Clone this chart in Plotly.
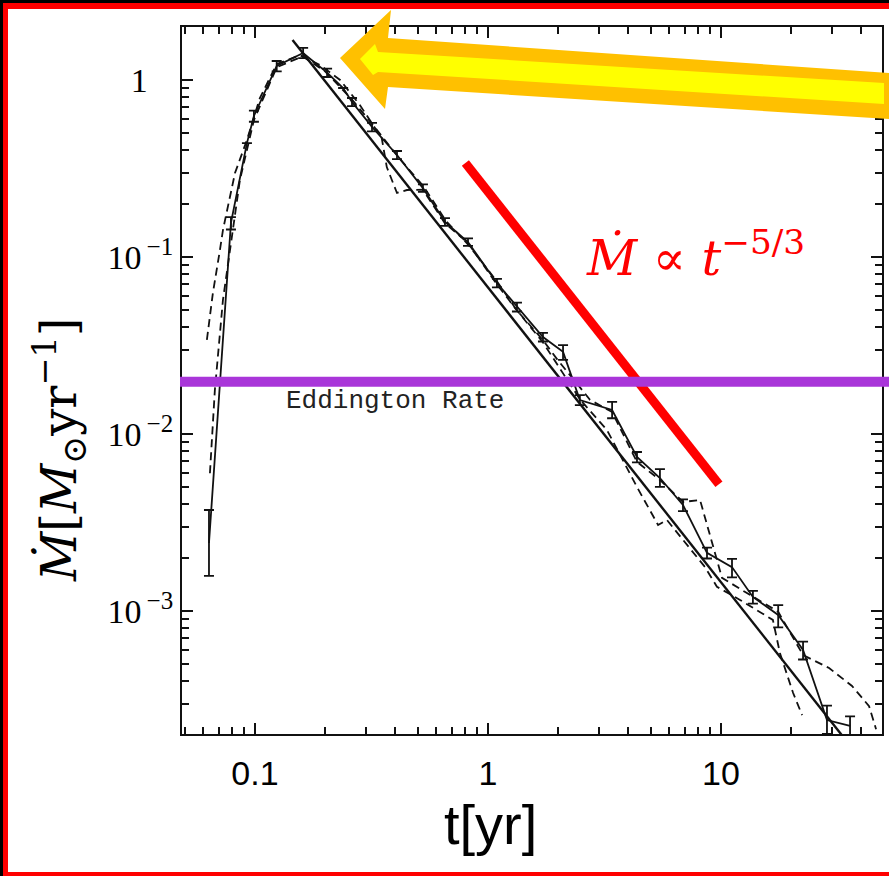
import plotly.graph_objects as go

# ---------------- data ----------------
# simulation (solid, with error bars)
t_sim = [0.0635, 0.0708, 0.0789, 0.0924, 0.099, 0.124, 0.161, 0.204, 0.239, 0.261,
         0.318, 0.407, 0.526, 0.654, 0.821, 1.093, 1.332, 1.722, 2.10, 2.48,
         3.41, 4.36, 5.47, 6.87, 8.71, 11.15, 13.71, 17.6, 22.5, 28.5, 35.8]
m_sim = [2.42e-3, 0.0202, 0.156, 0.44, 0.626, 1.20, 1.42, 1.10, 0.901, 0.751,
         0.543, 0.377, 0.245, 0.158, 0.1215, 0.0713, 0.0522, 0.0353, 0.0291, 0.01556,
         0.01367, 7.41e-3, 5.64e-3, 3.97e-3, 2.13e-3, 1.77e-3, 1.20e-3, 9.49e-4, 6.02e-4, 2.42e-4, 2.24e-4]
err_plus = [1.30e-3, 0, 0.012, 0, 0.045, 0.08, 0.10, 0.06, 0, 0.04,
            0.03, 0.02, 0.012, 0.008, 0.006, 0.004, 0.003, 0.002, 0.0027, 0.001,
            0.0015, 5e-4, 6.9e-4, 3e-4, 1.5e-4, 2.0e-4, 1e-4, 1.3e-4, 7e-5, 5e-5, 3e-5]
err_minus = [0.84e-3, 0, 0.013, 0, 0.045, 0.08, 0.09, 0.06, 0, 0.04,
             0.03, 0.02, 0.012, 0.008, 0.006, 0.004, 0.003, 0.002, 0.0029, 0.001,
             0.0014, 5e-4, 6.2e-4, 3e-4, 1.5e-4, 2.2e-4, 1e-4, 1.4e-4, 7e-5, 4e-5, 2.5e-5]

# dashed run 1
t_d1 = [0.0622, 0.066, 0.0708, 0.0729, 0.0821, 0.0924, 0.105, 0.124, 0.156, 0.19,
        0.232, 0.282, 0.35, 0.368, 0.407, 0.449, 0.526, 0.654, 0.821, 1.093,
        1.33, 1.72, 2.1, 2.5, 3.24, 4.36, 5.37, 5.86, 8.54, 9.61,
        12.07, 16.7, 17.9, 20.4, 22.3]
m_d1 = [0.034, 0.0626, 0.11, 0.142, 0.298, 0.458, 0.79, 1.23, 1.38, 1.215,
        1.0, 0.722, 0.47, 0.322, 0.23, 0.239, 0.24, 0.155, 0.12, 0.07,
        0.05, 0.033, 0.022, 0.0155, 0.01054, 5.02e-3, 3.06e-3, 3.27e-3, 1.77e-3, 1.37e-3,
        1.155e-3, 8.9e-4, 5.79e-4, 3.44e-4, 2.58e-4]

# dashed run 2
t_d2 = [0.0641, 0.0673, 0.0729, 0.0862, 0.099, 0.124, 0.16, 0.2, 0.26, 0.32,
        0.41, 0.53, 0.66, 0.82, 1.1, 1.33, 1.72, 2.0, 2.34, 2.74,
        3.41, 4.36, 5.47, 6.87, 8.13, 9.15, 10.1, 12.7, 17.6, 22.5,
        29.1, 36.5, 43.2, 46.3]
m_d2 = [6.0e-3, 0.0177, 0.0572, 0.272, 0.594, 1.18, 1.36, 1.12, 0.78, 0.56,
        0.37, 0.25, 0.16, 0.118, 0.072, 0.05, 0.034, 0.026, 0.0202, 0.0156,
        0.0133, 6.95e-3, 5.5e-3, 4.13e-3, 4.24e-3, 2.42e-3, 1.54e-3, 1.28e-3, 9.9e-4, 5.64e-4,
        4.76e-4, 3.77e-4, 2.9e-4, 2.15e-4]

# t^-5/3 fit line
t_fit = [0.145, 33.4]
m_fit = [1.68, 1.95e-4]

# red reference slope (annotation)
t_ref = [0.80, 9.8]
m_ref = [0.34, 5.2e-3]

eddington = 0.0197

x_tickvals = [0.1, 1, 10]
x_ticktext = ["0.1", "1", "10"]
y_tickvals = [1, 0.1, 0.01, 0.001]
SUP = "<sup><span style='font-size:25px'>\u2009\u2212%d</span></sup>"
y_ticktext = ["1\u00a0\u00a0\u00a0", "10" + SUP % 1, "10" + SUP % 2, "10" + SUP % 3]

x_minor = [k * 10.0 ** d for d in range(-2, 2) for k in range(2, 10)]
y_minor = [k * 10.0 ** d for d in range(-4, 1) for k in range(2, 10)]

# ---------------- figure ----------------
W, H = 889, 876
L, R, T, B = 182, 882, 27, 734


def PX(x):
    return (x - L) / (R - L)


def PY(y):
    return (B - y) / (B - T)


fig = go.Figure()

fig.add_trace(go.Scatter(x=t_d1, y=m_d1, mode="lines",
                         line=dict(color="#111", width=1.8, dash="8px,5px")))
fig.add_trace(go.Scatter(x=t_d2, y=m_d2, mode="lines",
                         line=dict(color="#111", width=1.8, dash="8px,5px")))
fig.add_trace(go.Scatter(x=t_fit, y=m_fit, mode="lines",
                         line=dict(color="#111", width=2.4)))
fig.add_trace(go.Scatter(x=t_sim, y=m_sim, mode="lines",
                         line=dict(color="#111", width=1.8),
                         error_y=dict(type="data", symmetric=False, array=err_plus,
                                      arrayminus=err_minus, color="#111",
                                      thickness=1.8, width=5)))
fig.add_trace(go.Scatter(x=t_ref, y=m_ref, mode="lines",
                         line=dict(color="#FF0000", width=9)))
# helper trace so the mirrored (top/right) axes exist
fig.add_trace(go.Scatter(x=[1], y=[1], xaxis="x2", yaxis="y2", mode="markers",
                         marker=dict(opacity=0), hoverinfo="skip"))

shapes = []
# Eddington line
shapes.append(dict(type="line", xref="paper", yref="y", x0=PX(180), x1=PX(889),
                   y0=eddington, y1=eddington, line=dict(color="#A936D9", width=10),
                   layer="above"))


def path(pts):
    return "M " + " L ".join("%.5f,%.5f" % (PX(x), PY(y)) for x, y in pts) + " Z"


outer = [(340, 58), (391, 10), (388, 38), (889, 73), (889, 119), (388, 87), (385, 109)]
inner = [(360, 59), (375, 44), (378, 52), (884, 83), (884, 104), (378, 72), (373, 75)]
shapes.append(dict(type="path", xref="paper", yref="paper", path=path(outer),
                   fillcolor="#FFC000", line=dict(width=0), layer="above"))
shapes.append(dict(type="path", xref="paper", yref="paper", path=path(inner),
                   fillcolor="#FFFF00", line=dict(width=0), layer="above"))

# frame
for (x0, y0, x1, y1, c) in [(0, 0, 889, 3, "black"), (0, 0, 3, 876, "black"),
                            (3, 3, 889, 9, "#FF0000"), (3, 3, 8, 876, "#FF0000"),
                            (8, 872, 889, 876, "#FF0000")]:
    shapes.append(dict(type="rect", xref="paper", yref="paper",
                       x0=PX(x0), x1=PX(x1), y0=PY(y1), y1=PY(y0),
                       fillcolor=c, line=dict(width=0), layer="above"))

annotations = [
    dict(xref="paper", yref="paper", x=PX(395), y=PY(401), xanchor="center", yanchor="middle",
         text="Eddington Rate", showarrow=False,
         font=dict(family="Liberation Mono, monospace", size=26, color="#222")),
    dict(xref="paper", yref="paper", x=PX(584), y=PY(254), xanchor="left", yanchor="middle",
         text="<i>\u1e40</i> \u221d <i>t</i><sup>\u22125/3</sup>", showarrow=False,
         font=dict(family="DejaVu Serif, serif", size=49, color="#FF0000")),
    dict(xref="paper", yref="paper", x=PX(59), y=PY(450), xanchor="center", yanchor="middle",
         textangle=-90,
         text="<i>\u1e40</i>[<i>M</i><sub>\u2299</sub>yr<sup>\u22121</sup>]", showarrow=False,
         font=dict(family="DejaVu Serif, serif", size=48, color="black")),
    dict(xref="paper", yref="paper", x=PX(490), y=PY(824), xanchor="center", yanchor="middle",
         text="t[yr]", showarrow=False,
         font=dict(family="Liberation Sans, Arial", size=56, color="black")),
]

axis_common = dict(type="log", showgrid=False, zeroline=False, showline=True,
                   linecolor="#111", linewidth=2, mirror=False,
                   ticks="inside", ticklen=11, tickwidth=1.5, tickcolor="#111")
minor_x = dict(tickvals=x_minor, ticks="inside", ticklen=7, tickwidth=1.5,
               tickcolor="#111", showgrid=False)
minor_y = dict(tickvals=y_minor, ticks="inside", ticklen=7, tickwidth=1.5,
               tickcolor="#111", showgrid=False)
xr = [-1.313, 1.691]
yr = [-3.695, 0.2994]

fig.update_layout(
    width=W, height=H, autosize=False,
    margin=dict(l=L, r=W - R, t=T, b=H - B, pad=0),
    paper_bgcolor="white", plot_bgcolor="white", showlegend=False,
    shapes=shapes, annotations=annotations,
    xaxis=dict(**axis_common, range=xr, tickvals=x_tickvals, ticktext=x_ticktext,
               ticklabelstandoff=8,
               tickfont=dict(family="Liberation Sans, Arial", size=34, color="black"),
               minor=minor_x),
    yaxis=dict(**axis_common, range=yr, tickvals=y_tickvals, ticktext=y_ticktext,
               tickfont=dict(family="Liberation Serif, serif", size=34, color="black"),
               minor=minor_y),
    xaxis2=dict(**axis_common, range=xr, tickvals=x_tickvals, showticklabels=False,
                overlaying="x", side="top", anchor="y", minor=minor_x),
    yaxis2=dict(**axis_common, range=yr, tickvals=y_tickvals, showticklabels=False,
                overlaying="y", side="right", anchor="x", minor=minor_y),
)

fig.write_html("out.html",
               config={"displayModeBar": False},
               post_script="document.documentElement.style.overflow='hidden';"
                           "document.body.style.margin='0';"
                           "document.body.style.overflow='hidden';")
